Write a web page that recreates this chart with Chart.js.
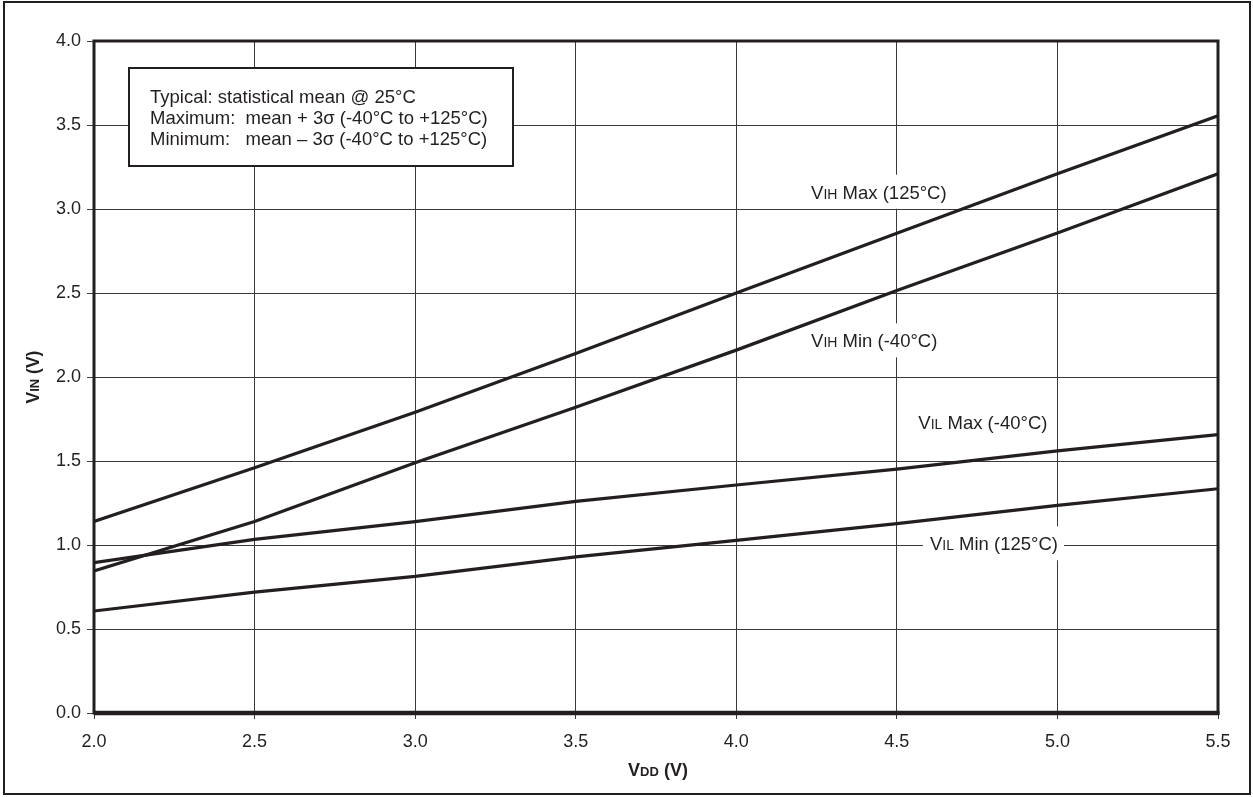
<!DOCTYPE html>
<html>
<head>
<meta charset="utf-8">
<title>VIN vs VDD</title>
<script src="https://cdn.jsdelivr.net/npm/chart.js@4/dist/chart.umd.min.js"></script>
<style>
  html, body { margin: 0; padding: 0; background: #fff; }
  canvas { display: block; }
</style>
</head>
<body>
<canvas id="chart" width="1253" height="797"></canvas>
<script>
// values
const vdd = [2.0, 2.5, 3.0, 3.5, 4.0, 4.5, 5.0, 5.5];
const vihMax = [1.14, 1.46, 1.79, 2.14, 2.50, 2.855, 3.21, 3.555];
const vihMin = [0.845, 1.14, 1.49, 1.82, 2.16, 2.515, 2.857, 3.21];
const vilMax = [0.895, 1.033, 1.139, 1.26, 1.357, 1.452, 1.56, 1.657];
const vilMin = [0.607, 0.72, 0.813, 0.929, 1.027, 1.127, 1.236, 1.335];
const seriesNames = ['VIH Max (125°C)', 'VIH Min (-40°C)', 'VIL Max (-40°C)', 'VIL Min (125°C)'];
const xTicks = [2.0, 2.5, 3.0, 3.5, 4.0, 4.5, 5.0, 5.5];
const yTicks = [0.0, 0.5, 1.0, 1.5, 2.0, 2.5, 3.0, 3.5, 4.0];
const noteLines = [
  'Typical: statistical mean @ 25°C',
  'Maximum:  mean + 3σ (-40°C to +125°C)',
  'Minimum:   mean – 3σ (-40°C to +125°C)'
];

const INK = '#231f20';
const FONT = 'Arial, "Liberation Sans", sans-serif';

function pts(ys) {
  return vdd.map((x, i) => ({x: x, y: ys[i]}));
}

// text like "VIH Max" where the letters after V are smaller
function drawSubText(ctx, parts, x, y, big, small, bold) {
  let cx = x;
  const w = bold ? 'bold ' : '';
  parts.forEach(p => {
    ctx.font = w + (p.sub ? small : big) + 'px ' + FONT;
    ctx.fillText(p.t, cx, y);
    cx += ctx.measureText(p.t).width;
  });
  return cx - x;
}
function measureSubText(ctx, parts, big, small, bold) {
  let total = 0;
  const w = bold ? 'bold ' : '';
  parts.forEach(p => {
    ctx.font = w + (p.sub ? small : big) + 'px ' + FONT;
    total += ctx.measureText(p.t).width;
  });
  return total;
}
function splitName(name) {
  // "VIH Max (125°C)" -> V + IH + rest
  return [{t: name[0]}, {t: name.slice(1, 3), sub: true}, {t: name.slice(3)}];
}

// label anchors: left edge and middle, in data units
const labelPos = [[4.233, 3.091], [4.233, 2.206], [4.567, 1.722], [4.603, 0.998]];
const LBL = 18.5, LBL_SUB = 14;

const decorPlugin = {
  id: 'decor',
  beforeDraw(chart) {
    const ctx = chart.ctx;
    ctx.save();
    ctx.fillStyle = '#fff';
    ctx.fillRect(0, 0, chart.width, chart.height);
    ctx.restore();
  },
  beforeDatasetsDraw(chart) {
    // white patches behind the series labels hide the grid there
    const ctx = chart.ctx;
    const xs = chart.scales.x, ys = chart.scales.y;
    ctx.save();
    ctx.fillStyle = '#fff';
    seriesNames.forEach((name, i) => {
      const w = measureSubText(ctx, splitName(name), LBL, LBL_SUB, false);
      const px = xs.getPixelForValue(labelPos[i][0]);
      const py = ys.getPixelForValue(labelPos[i][1]);
      ctx.fillRect(px - 7, py - 19, w + 13, 34);
    });
    ctx.restore();
  },
  afterDatasetsDraw(chart) {
    const ctx = chart.ctx;
    const a = chart.chartArea;
    const xs = chart.scales.x, ys = chart.scales.y;
    ctx.save();

    // plot frame
    ctx.strokeStyle = INK;
    ctx.lineWidth = 3;
    ctx.strokeRect(a.left, a.top, a.right - a.left, a.bottom - a.top);
    ctx.lineWidth = 4.5;
    ctx.beginPath();
    ctx.moveTo(a.left, a.bottom);
    ctx.lineTo(a.right + 1.5, a.bottom);
    ctx.stroke();

    // outer frame
    ctx.lineWidth = 2;
    ctx.strokeRect(4, 2, chart.width - 7, chart.height - 5);

    // note box
    ctx.fillStyle = '#fff';
    ctx.fillRect(129, 68, 384, 98);
    ctx.lineWidth = 2;
    ctx.strokeRect(129, 68, 384, 98);
    ctx.fillStyle = INK;
    ctx.font = '18.5px ' + FONT;
    ctx.textBaseline = 'alphabetic';
    ctx.textAlign = 'left';
    noteLines.forEach((t, i) => ctx.fillText(t, 150, 103 + i * 21));

    // series labels
    seriesNames.forEach((name, i) => {
      const px = xs.getPixelForValue(labelPos[i][0]);
      const py = ys.getPixelForValue(labelPos[i][1]);
      drawSubText(ctx, splitName(name), px, py + 4.8, LBL, LBL_SUB, false);
    });

    // axis titles
    const xt = [{t: 'V'}, {t: 'DD', sub: true}, {t: ' (V)'}];
    const xw = measureSubText(ctx, xt, 18, 13, true);
    drawSubText(ctx, xt, 658 - xw / 2, 776, 18, 13, true);

    const yt = [{t: 'V'}, {t: 'IN', sub: true}, {t: ' (V)'}];
    const yw = measureSubText(ctx, yt, 17.5, 13, true);
    ctx.translate(39, 377);
    ctx.rotate(-Math.PI / 2);
    drawSubText(ctx, yt, -yw / 2, 0, 17.5, 13, true);
    ctx.restore();
  }
};

const lineStyle = {
  borderColor: INK,
  borderWidth: 3.2,
  pointRadius: 0,
  tension: 0,
  fill: false
};

new Chart(document.getElementById('chart'), {
  type: 'line',
  data: {
    datasets: [
      Object.assign({label: seriesNames[0], data: pts(vihMax)}, lineStyle),
      Object.assign({label: seriesNames[1], data: pts(vihMin)}, lineStyle),
      Object.assign({label: seriesNames[2], data: pts(vilMax)}, lineStyle),
      Object.assign({label: seriesNames[3], data: pts(vilMin)}, lineStyle)
    ]
  },
  options: {
    responsive: false,
    animation: false,
    devicePixelRatio: 1,
    layout: { padding: { top: 41, right: 35, left: 0, bottom: 0 } },
    plugins: {
      legend: { display: false },
      tooltip: { enabled: false }
    },
    scales: {
      x: {
        type: 'linear',
        min: xTicks[0],
        max: xTicks[xTicks.length - 1],
        afterBuildTicks: scale => { scale.ticks = xTicks.map(v => ({value: v})); },
        afterFit: scale => { scale.height = 84; },
        grid: { color: '#3a3a3a', lineWidth: 1, tickLength: 6, drawTicks: true },
        border: { display: false },
        ticks: {
          color: INK,
          font: { family: FONT, size: 18 },
          padding: 12,
          maxRotation: 0,
          callback: v => v.toFixed(1)
        }
      },
      y: {
        type: 'linear',
        min: yTicks[0],
        max: yTicks[yTicks.length - 1],
        afterBuildTicks: scale => { scale.ticks = yTicks.map(v => ({value: v})); },
        afterFit: scale => { scale.width = 94; },
        grid: { color: '#3a3a3a', lineWidth: 1, tickLength: 7, drawTicks: true },
        border: { display: false },
        ticks: {
          color: INK,
          font: { family: FONT, size: 18 },
          padding: 6,
          callback: v => v.toFixed(1)
        }
      }
    }
  },
  plugins: [decorPlugin]
});
</script>
</body>
</html>
